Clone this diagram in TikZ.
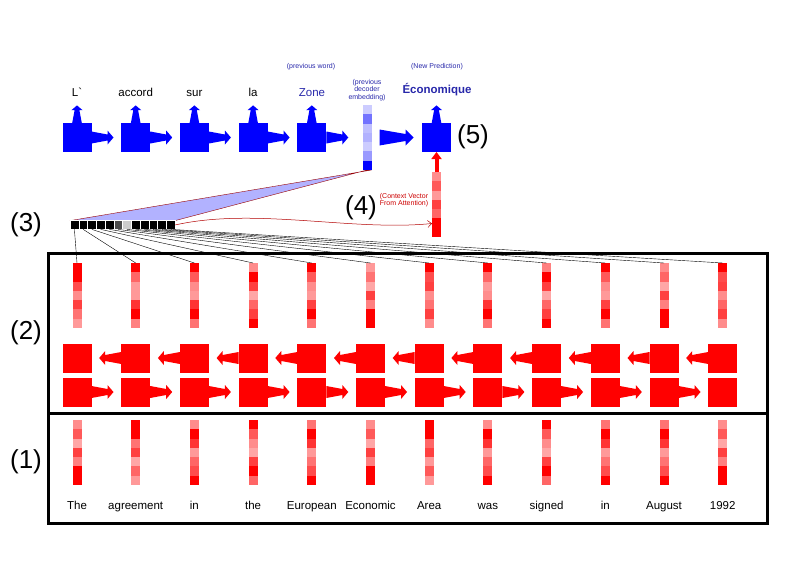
\documentclass[tikz,border=0pt]{standalone}
\usepackage{fontspec}
\setmainfont{Liberation Sans}
\usetikzlibrary{arrows.meta,backgrounds}
\definecolor{navy}{RGB}{40,40,170}
% one column vector of 7 shaded cells
\newcommand{\cellvec}[4]{%
\node[vecbox] (#1) at (#2) {};
\foreach \s [count=\k from 0] in #4
  \fill[#3!\s] ([yshift=-\k*9.2857pt]#1.north west) rectangle ([yshift=-\k*9.2857pt-9.2857pt]#1.north east);
}
\begin{document}
\begin{tikzpicture}[x=1pt,y=-1pt,
  word/.style={font=\fontsize{11.5}{13}\selectfont,anchor=base,inner sep=0pt},
  note/.style={font=\fontsize{7}{7.6}\selectfont,align=center,inner sep=0pt},
  num/.style={font=\fontsize{26}{28}\selectfont,inner sep=0pt},
  vecbox/.style={minimum width=9pt,minimum height=65pt,inner sep=0pt,outer sep=0pt},
  bluebox/.style={fill=blue,minimum size=29pt,inner sep=0pt,outer sep=0pt},
  redbox/.style={fill=red,minimum size=29pt,inner sep=0pt,outer sep=0pt},
  att/.style={minimum size=8.75pt,inner sep=0pt,outer sep=0pt,draw=white,line width=.3pt},
  fat arrow/.pic={\fill (0,-6) -- (16,-3) -- (16,-7) -- (22,0) -- (16,7) -- (16,3) -- (0,6) -- cycle;},
  wedge arrow/.pic={\fill (0,-8) -- (26,-3.5) -- (26,-8) -- (34,0) -- (26,8) -- (26,3.5) -- (0,8) -- cycle;}]
\useasboundingbox (0,0) rectangle (800,565);

% decoder (5)
\foreach \w [count=\i from 0] in {L\textasciigrave,accord,sur,la}
  \node[word] (w\i) at (77+58.7*\i,96) {\w};
\node[word,text=navy] (w4) at (312,96) {Zone};
\node[note,text=navy] (pw) at (311,67) {(previous word)};
\foreach \i in {0,...,4} {
  \node[bluebox] (d\i) at (77+58.7*\i,137.5) {};
  \pic[blue,rotate=90,scale=.8] at (d\i.north) {fat arrow};
  \pic[blue] at (d\i.east) {fat arrow};
}
\cellvec{emb}{367,137.5}{blue}{{20,55,25,30,20,40,100}}
\node[note,text=navy] (pe) at (367,90) {(previous\\decoder\\embedding)};
\node[bluebox] (fin) at (436.5,137.5) {};
\pic[blue] at ([xshift=8pt]emb.east) {wedge arrow};
\pic[blue,rotate=90,scale=.8] at (fin.north) {fat arrow};
\node[note,text=navy] (np) at (437,67) {(New Prediction)};
\node[word,font=\fontsize{11.5}{13}\selectfont\bfseries,text=navy] (out) at (437,93) {Économique};
\node[num] (l5) at (473,137) {(5)};

% context vector (4)
\cellvec{ctx}{436.5,204.5}{red}{{45,65,40,75,60,100,100}}
\draw[red,line width=4pt,-{Triangle[width=10pt,length=7pt]}] (ctx.north) -- (fin.south);
\node[note,text=red!80!black] (cv) at (404,200) {(Context Vector\\From Attention)};
\node[num] (l4) at (361,208) {(4)};

% attention weights (3)
\foreach \g [count=\i from 0] in {black,black,black,black,black,black!70,black!20,black,black,black,black,black}
  \node[att,fill=\g] (a\i) at (74.4+8.75*\i,225) {};
\begin{scope}[on background layer]
\fill[blue!30,draw=red!60!black,line width=.4pt] (a0.north west) -- (emb.south east) -- (emb.south) -- (a11.north east) -- cycle;
\end{scope}
\draw[red!70!black,line width=.5pt,-{Straight Barb[length=4pt,width=7pt]}] (a11.east) .. controls +(80,-18) and +(-80,8) .. ([yshift=-19pt]ctx.west);
\node[num] (l3) at (26,225) {(3)};

% encoder (2)
\foreach \shades [count=\i from 0] in {{100,100,70,45,75,55,40},{100,60,40,40,80,100,50},{100,65,45,40,80,100,55},{45,100,75,35,60,75,100},{100,65,45,40,75,100,55},{40,55,35,75,50,100,100},{100,70,75,45,55,75,45},{100,60,40,45,80,100,55},{50,100,75,35,60,75,100},{100,65,45,40,75,100,55},{45,60,35,75,50,100,100},{100,70,75,45,60,75,45}} {
  \cellvec{h\i}{77+58.7*\i,295.5}{red}{\shades}
  \draw[line width=.4pt] (a\i.south) -- (h\i.north);
}
\foreach \i in {0,...,11} {
  \node[redbox] (b\i) at (77+58.7*\i,358) {};
  \node[redbox] (f\i) at (77+58.7*\i,392) {};
}
\foreach \i in {0,...,10}
  \pic[red] at (f\i.east) {fat arrow};
\foreach \i in {1,...,11}
  \pic[red,xscale=-1] at (b\i.west) {fat arrow};
\node[num] (l2) at (26,333) {(2)};

% embeddings (1)
\foreach \shades [count=\i from 0] in {{45,65,35,75,50,100,100},{100,100,55,75,35,60,40},{45,100,80,40,60,70,100},{100,65,45,35,75,100,60},{55,100,80,40,55,70,100},{45,65,35,75,50,100,100},{100,100,60,75,40,65,40},{45,100,80,40,60,70,100},{100,65,45,35,75,100,60},{55,100,80,40,55,70,100},{55,100,80,40,55,70,100},{45,65,35,75,50,100,100}}
  \cellvec{e\i}{77+58.7*\i,452.5}{red}{\shades};
\foreach \w [count=\i from 0] in {The,agreement,in,the,European,Economic,Area,was,signed,in,August,1992}
  \node[word] (s\i) at (77+58.7*\i,509) {\w};
\node[num] (l1) at (26,462) {(1)};

\draw[line width=3pt] (48,253) rectangle (767,523);
\draw[line width=3pt] (48,413) -- (767,413);
\end{tikzpicture}
\end{document}
